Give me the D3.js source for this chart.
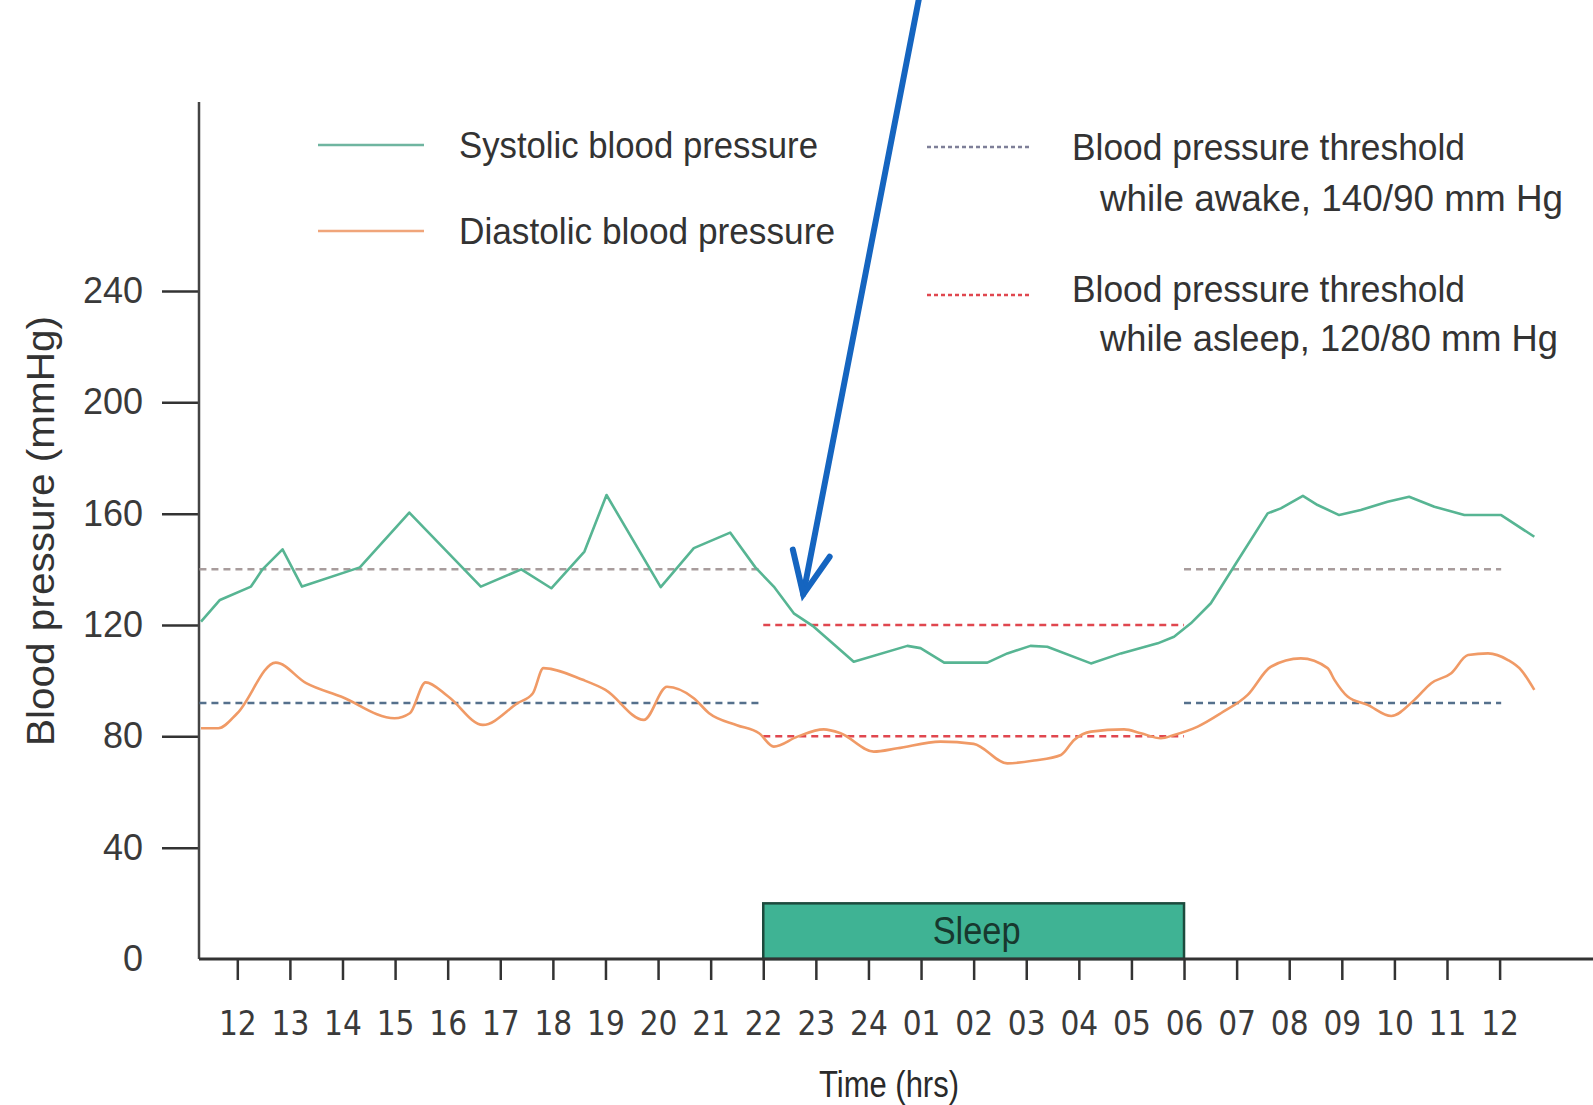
<!DOCTYPE html>
<html>
<head>
<meta charset="utf-8">
<script src="https://cdn.jsdelivr.net/npm/d3@7"></script>
<style>
  body { margin: 0; background: #fff; }
  svg { display: block; }
  .narrow { font-family: "Liberation Sans Narrow", "Arial Narrow", "DejaVu Sans Condensed", sans-serif; }
  .plain { font-family: "Liberation Sans", Arial, sans-serif; }
</style>
</head>
<body>
<div class="chart"></div>
<script>
// hour 0 = 12:00 on day one, hour 24 = 12:00 next day
const hourLabels = ["12","13","14","15","16","17","18","19","20","21","22","23","24",
                    "01","02","03","04","05","06","07","08","09","10","11","12"];
const yTicks = [0, 40, 80, 120, 160, 200, 240];

const systolic = [[-0.69,121.2],[-0.33,129],[0.26,133.8],[0.48,140],[0.86,147.2],[1.23,133.8],
  [2.33,140.7],[3.27,160.4],[4.63,133.8],[5.4,140],[5.97,133.2],[6.6,146.4],[7.02,166.7],
  [8.05,133.6],[8.68,147.6],[9.37,153.2],[9.85,140.7],[10.2,133.8],[10.58,124.2],[10.96,119.4],
  [11.72,106.8],[12.74,112.5],[12.99,111.7],[13.44,106.5],[14.26,106.5],[14.64,109.8],
  [15.08,112.5],[15.4,112.2],[16.23,106.2],[16.8,109.8],[17.5,113.4],[17.81,115.8],
  [18.13,120.6],[18.51,127.8],[18.95,141],[19.59,160.1],[19.84,161.9],[20.26,166.4],
  [20.54,163.1],[20.95,159.5],[21.36,161.3],[21.87,164.3],[22.28,166.1],[22.76,162.5],
  [23.33,159.5],[24.03,159.5],[24.66,151.7]];

const diastolic = [[-0.69,82.9],[-0.36,82.9],[0,88.3],[0.73,106.5],[1.31,99.1],[1.97,94.3],
  [2.99,86.5],[3.28,88.3],[3.58,99.4],[4.01,94.3],[4.67,84.1],[5.33,91.9],[5.62,95.5],
  [5.82,104.5],[6.57,100.3],[7.0,96.7],[7.73,85.9],[8.17,97.8],[8.68,93.7],[8.97,88.3],
  [9.5,84],[9.92,81.1],[10.2,76.3],[10.65,79.9],[11.15,82.5],[11.47,81.1],[12.1,74.5],
  [12.55,75.7],[13.37,78.1],[14.0,77.3],[14.64,70.3],[15.15,71.3],[15.66,73.3],[15.91,78.7],
  [16.23,81.7],[16.86,82.5],[17.18,81.1],[17.56,79.3],[17.81,80.5],[18.26,83.5],[18.7,88.3],
  [19.21,94.9],[19.65,105],[20.22,108],[20.73,104.5],[20.86,100.3],[21.11,94.3],[21.49,91.3],
  [21.94,87.3],[22.38,93.1],[22.7,99.1],[23.08,102.7],[23.4,109.2],[23.78,109.8],
  [24.16,107.4],[24.41,103.8],[24.66,96.7]];

// threshold segments: [from hour, to hour, level]
const awakeSystolic = [[-0.72, 9.95, 140], [18.0, 24.03, 140]];
const awakeDiastolic = [[-0.72, 9.95, 92], [18.0, 24.03, 92]];
const asleepThresholds = [[10, 18, 120], [10, 18, 80]];

const sleepSpan = [10, 18];
const sleepTop = 20;

const arrowFrom = [12.97, 346];
const arrowTo = [10.76, 131];

const width = 1593, height = 1105;
const svg = d3.select('.chart').append('svg').attr('width', width).attr('height', height);

const x = d3.scaleLinear().domain([0, 24]).range([237.3, 1499.6]);
const y = d3.scaleLinear().domain([0, 240]).range([959, 291]);
const axisX = 199;

//sleep bar
svg.append('rect')
  .attr('x', x(sleepSpan[0])).attr('y', y(sleepTop))
  .attr('width', x(sleepSpan[1]) - x(sleepSpan[0]))
  .attr('height', y(0) - y(sleepTop))
  .style('fill', '#3fb394').style('stroke', '#1d4a3d').style('stroke-width', 2.5);
svg.append('text').attr('class', 'plain')
  .attr('x', (x(sleepSpan[0]) + x(sleepSpan[1])) / 2 + 3)
  .attr('y', y(sleepTop / 2) + 13)
  .attr('text-anchor', 'middle')
  .attr('textLength', 88).attr('lengthAdjust', 'spacingAndGlyphs')
  .style('font-size', '38px').style('fill', '#17382e')
  .text('Sleep');

//axes
let yAxis = d3.axisLeft(y).tickValues(yTicks).tickSize(37).tickPadding(19);
let gy = svg.append('g').attr('transform', `translate(${axisX},0)`).call(yAxis);
gy.select('.domain').remove();
gy.selectAll('.tick line').style('stroke', '#333').style('stroke-width', 2.5)
  .filter(d => d === 0).remove();
gy.selectAll('.tick text').attr('class', 'plain')
  .style('font-size', '36px').style('fill', '#3a3a3a');

let xAxis = d3.axisBottom(x).tickValues(d3.range(0, 25)).tickFormat(d => hourLabels[d])
  .tickSize(21).tickPadding(32);
let gx = svg.append('g').attr('transform', `translate(0,${y(0)})`).call(xAxis);
gx.select('.domain').remove();
gx.selectAll('.tick line').style('stroke', '#333').style('stroke-width', 2.5);
gx.selectAll('.tick text').attr('class', 'narrow').style('font-size', '33px').style('fill', '#3a3a3a');

svg.append('line').attr('x1', axisX).attr('x2', axisX).attr('y1', 102).attr('y2', y(0))
  .style('stroke', '#444').style('stroke-width', 2.5);
svg.append('line').attr('x1', axisX).attr('x2', width).attr('y1', y(0)).attr('y2', y(0))
  .style('stroke', '#333').style('stroke-width', 3);

svg.append('text').attr('class', 'plain')
  .attr('x', 889).attr('y', 1097).attr('text-anchor', 'middle')
  .attr('textLength', 140).attr('lengthAdjust', 'spacingAndGlyphs')
  .style('font-size', '36px').style('fill', '#2a2a2a').text('Time (hrs)');
svg.append('text').attr('class', 'plain')
  .attr('transform', 'translate(54,531) rotate(-90)').attr('text-anchor', 'middle')
  .attr('textLength', 430).attr('lengthAdjust', 'spacingAndGlyphs')
  .style('font-size', '39px').style('fill', '#333').text('Blood pressure (mmHg)');

//thresholds
let drawSeg = function(segs, color){
  svg.append('g').selectAll('line').data(segs).enter().append('line')
    .attr('x1', d => x(d[0])).attr('x2', d => x(d[1]))
    .attr('y1', d => y(d[2])).attr('y2', d => y(d[2]))
    .style('stroke', color).style('stroke-width', 2.5).style('stroke-dasharray', '7,5');
}
drawSeg(awakeSystolic, '#a89c9c');
drawSeg(awakeDiastolic, '#55708c');
drawSeg(asleepThresholds, '#e0474f');

//series
let sysLine = d3.line().x(d => x(d[0])).y(d => y(d[1]));
let diaLine = d3.line().x(d => x(d[0])).y(d => y(d[1])).curve(d3.curveMonotoneX);
svg.append('path').datum(systolic).attr('d', sysLine)
  .style('fill', 'none').style('stroke', '#57b593').style('stroke-width', 2.6)
  .style('stroke-linejoin', 'round');
svg.append('path').datum(diastolic).attr('d', diaLine)
  .style('fill', 'none').style('stroke', '#f09a66').style('stroke-width', 2.6);

//legend
let legendText = [
  {t: 'Systolic blood pressure', x: 459, y: 158, w: 359},
  {t: 'Diastolic blood pressure', x: 459, y: 244, w: 376},
  {t: 'Blood pressure threshold', x: 1072, y: 160, w: 393},
  {t: 'while awake, 140/90 mm Hg', x: 1100, y: 211, w: 463},
  {t: 'Blood pressure threshold', x: 1072, y: 302, w: 393},
  {t: 'while asleep, 120/80 mm Hg', x: 1100, y: 351, w: 458}
];
let legend = svg.append('g').attr('class', 'plain').style('font-size', '37px').style('fill', '#333');
legend.selectAll('text').data(legendText).enter().append('text')
  .attr('x', d => d.x).attr('y', d => d.y)
  .attr('textLength', d => d.w).attr('lengthAdjust', 'spacingAndGlyphs')
  .text(d => d.t);

legend.append('line').attr('x1', 318).attr('x2', 424).attr('y1', 145).attr('y2', 145)
  .style('stroke', '#6fb5a0').style('stroke-width', 2.6);
legend.append('line').attr('x1', 318).attr('x2', 424).attr('y1', 231).attr('y2', 231)
  .style('stroke', '#f0a57a').style('stroke-width', 2.6);
legend.append('line').attr('x1', 927).attr('x2', 1031).attr('y1', 147).attr('y2', 147)
  .style('stroke', '#7e7f98').style('stroke-width', 2.5).style('stroke-dasharray', '4,3');
legend.append('line').attr('x1', 927).attr('x2', 1031).attr('y1', 295).attr('y2', 295)
  .style('stroke', '#e0474f').style('stroke-width', 2.5).style('stroke-dasharray', '4,3');

//annotation arrow
let tipX = x(arrowTo[0]), tipY = y(arrowTo[1]);
let ang = Math.atan2(y(arrowFrom[1]) - tipY, x(arrowFrom[0]) - tipX);
let headLen = 46, spread = 0.42;
let arrow = svg.append('g').style('stroke', '#1565c0').style('stroke-width', 6)
  .style('fill', 'none').style('stroke-linecap', 'round');
arrow.append('line').attr('x1', x(arrowFrom[0])).attr('y1', y(arrowFrom[1]))
  .attr('x2', tipX).attr('y2', tipY);
arrow.append('path').attr('d',
  'M' + (tipX + headLen * Math.cos(ang - spread)) + ',' + (tipY + headLen * Math.sin(ang - spread)) +
  'L' + tipX + ',' + tipY +
  'L' + (tipX + headLen * Math.cos(ang + spread)) + ',' + (tipY + headLen * Math.sin(ang + spread)))
  .style('stroke-linejoin', 'miter');
</script>
</body>
</html>
